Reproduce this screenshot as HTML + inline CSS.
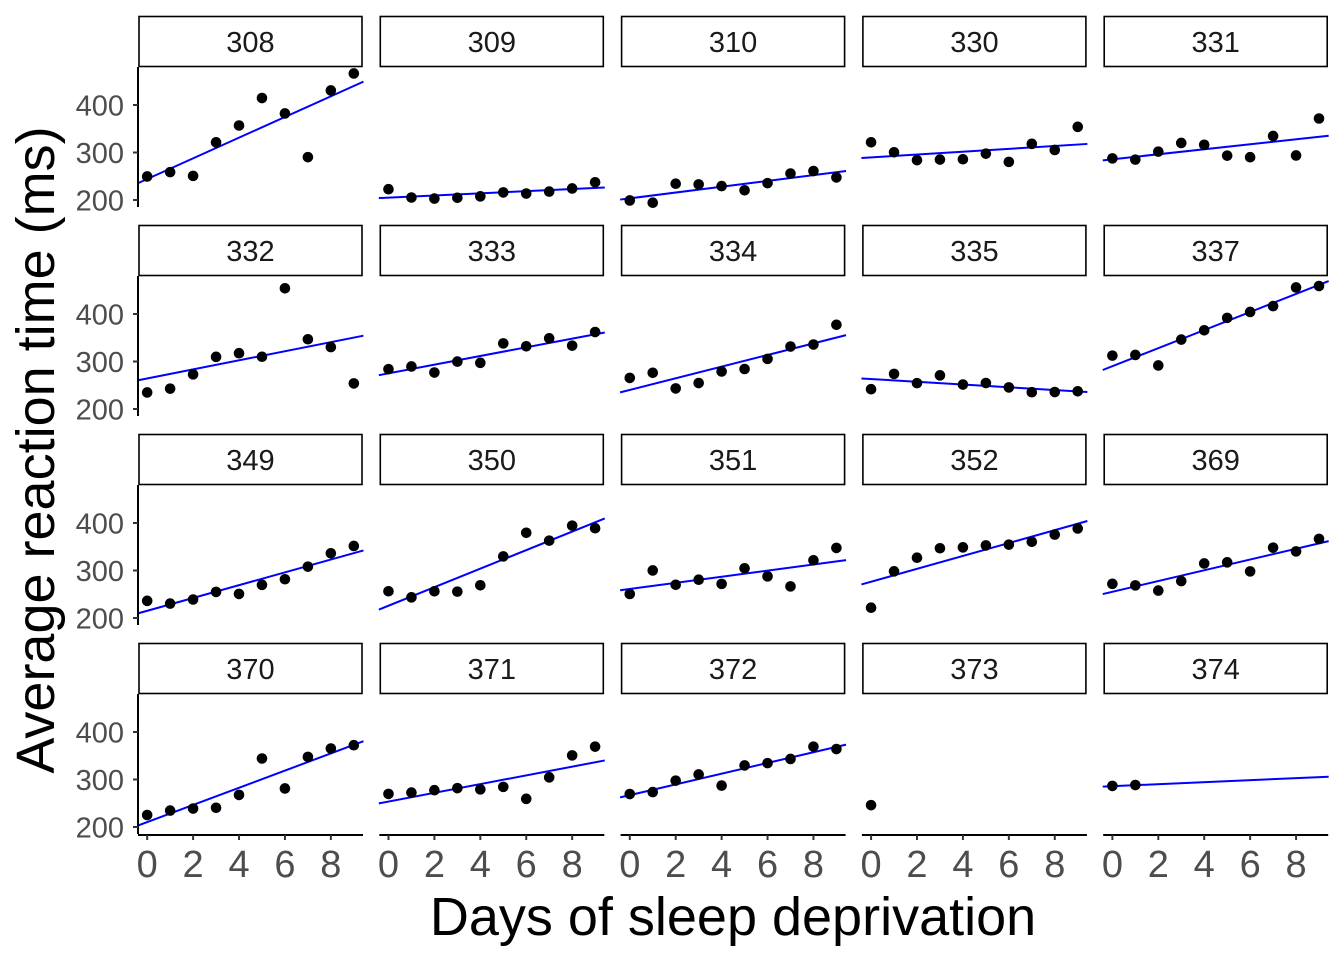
<!DOCTYPE html>
<html><head><meta charset="utf-8"><style>
html,body{margin:0;padding:0;background:#fff;}
svg{display:block;font-family:"Liberation Sans",Arial,sans-serif;}
</style></head><body>
<svg id="s" width="1344" height="960" xmlns="http://www.w3.org/2000/svg"></svg>
<script>
const D={
308:[249.56,258.70,250.80,321.44,356.85,414.69,382.20,290.15,430.59,466.35],
309:[222.73,205.27,202.98,204.71,207.72,215.96,213.63,217.73,224.30,237.31],
310:[199.05,194.33,234.32,232.84,229.31,220.46,235.42,255.75,261.01,247.52],
330:[321.54,300.40,283.86,285.13,285.80,297.59,280.24,318.26,305.35,354.05],
331:[287.61,285.00,301.82,320.12,316.28,293.32,290.08,334.82,293.75,371.58],
332:[234.86,242.81,272.96,309.77,317.46,309.99,454.16,346.83,330.30,253.86],
333:[283.84,289.56,276.77,299.80,297.17,338.17,332.02,348.84,333.36,362.04],
334:[265.48,276.20,243.36,254.67,279.02,284.19,305.53,331.50,335.75,377.30],
335:[241.61,273.95,254.49,270.84,251.45,254.64,245.45,235.31,235.75,237.25],
337:[312.37,313.81,291.61,346.12,365.73,391.84,404.26,416.69,455.86,458.92],
349:[236.10,230.32,238.93,254.92,250.71,269.77,281.56,308.10,336.28,351.65],
350:[256.29,243.46,256.20,255.53,268.92,329.72,379.44,362.91,394.49,389.05],
351:[250.53,300.06,269.89,280.58,271.83,304.63,287.75,266.56,321.54,347.57],
352:[221.68,298.19,326.88,346.86,348.74,352.83,354.42,360.46,375.64,388.54],
369:[271.92,268.70,257.72,277.66,314.82,317.21,298.14,348.13,340.28,366.51],
370:[225.26,234.52,238.90,240.47,267.54,344.19,281.15,347.59,365.16,372.23],
371:[269.7,272.5,277.4,281.8,279.2,284.5,259.3,304.6,350.8,369.1],
372:[269.41,273.47,297.60,310.63,287.17,329.61,334.48,343.22,369.14,364.12],
373:[246],
374:[286.5,288.3]};
const ids=[308,309,310,330,331,332,333,334,335,337,349,350,351,352,369,370,371,372,373,374];
let h='';
const stripTop=[16,225,434,643];
ids.forEach((id,i)=>{
 const r=Math.floor(i/5),c=i%5;
 const L=138+c*241.3, R=L+225, st=stripTop[r], pt=st+51, pb=pt+140;
 const X=d=>L+(d+0.4)*22.96;
 const Y=v=>pt+38-(v-400)*0.475;
 h+=`<rect x="${L+1}" y="${st+0.5}" width="${R-L-2}" height="50" fill="#fff" stroke="#000" stroke-width="1.6"/>`;
 h+=`<text x="${(L+R)/2}" y="${st+36}" font-size="29" fill="#1a1a1a" text-anchor="middle">${id}</text>`;
 const y=D[id]; let a,b;
 if(id==374){a=286;b=2.1;}
 else if(y.length>2){const n=y.length;let mx=(n-1)/2,my=y.reduce((s,v)=>s+v,0)/n,sxy=0,sxx=0;
  y.forEach((v,k)=>{sxy+=(k-mx)*(v-my);sxx+=(k-mx)*(k-mx);});b=sxy/sxx;a=my-b*mx;}
 if(a!==undefined){const x0=-0.42,x1=9.42;
  h+=`<line x1="${X(x0)}" y1="${Y(a+b*x0)}" x2="${X(x1)}" y2="${Y(a+b*x1)}" stroke="#0000ff" stroke-width="2"/>`;}
 y.forEach((v,k)=>{h+=`<circle cx="${X(k)}" cy="${Y(v)}" r="5.3" fill="#000"/>`;});
 if(c==0){
  h+=`<line x1="${L}" y1="${pt}" x2="${L}" y2="${pb}" stroke="#000" stroke-width="2"/>`;
  [200,300,400].forEach(v=>{h+=`<line x1="${L-5}" y1="${Y(v)}" x2="${L}" y2="${Y(v)}" stroke="#333" stroke-width="2"/>`;
   h+=`<text x="${L-14}" y="${Y(v)+10.5}" font-size="29" fill="#4d4d4d" text-anchor="end">${v}</text>`;});
 }
 if(r==3){
  h+=`<line x1="${L}" y1="${pb+1}" x2="${R}" y2="${pb+1}" stroke="#000" stroke-width="2"/>`;
  [0,2,4,6,8].forEach(d=>{h+=`<line x1="${X(d)}" y1="${pb+1}" x2="${X(d)}" y2="${pb+6}" stroke="#333" stroke-width="2"/>`;
   h+=`<text x="${X(d)}" y="${pb+43}" font-size="38" fill="#4d4d4d" text-anchor="middle">${d}</text>`;});
 }
});
h+=`<text x="733" y="935" font-size="54" fill="#000" text-anchor="middle">Days of sleep deprivation</text>`;
h+=`<text transform="translate(54,450) rotate(-90)" font-size="54" fill="#000" text-anchor="middle">Average reaction time (ms)</text>`;
document.getElementById('s').innerHTML=h;
</script>
</body></html>
